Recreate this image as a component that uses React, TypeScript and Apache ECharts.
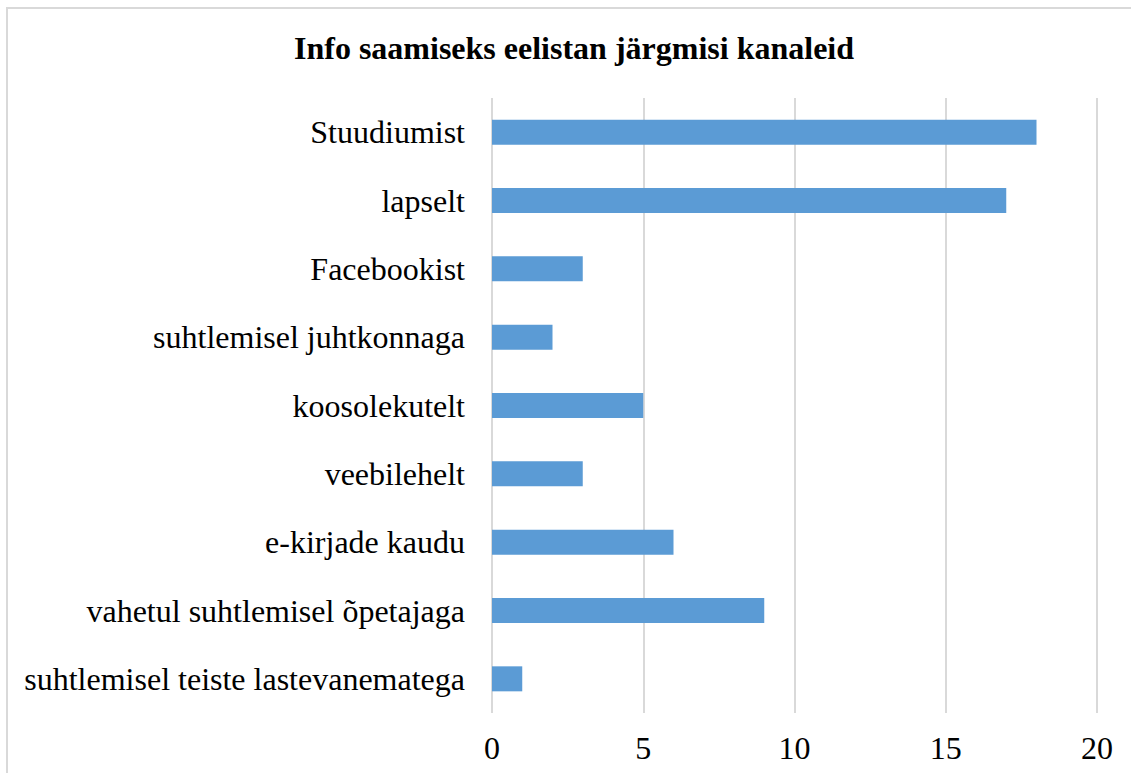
import React, { useEffect, useRef } from "react";
import * as echarts from "echarts";

const titleText = "Info saamiseks eelistan järgmisi kanaleid";
// listed bottom to top (ECharts category order)
const categories = [
  "suhtlemisel teiste lastevanematega",
  "vahetul suhtlemisel õpetajaga",
  "e-kirjade kaudu",
  "veebilehelt",
  "koosolekutelt",
  "suhtlemisel juhtkonnaga",
  "Facebookist",
  "lapselt",
  "Stuudiumist",
];
const values = [1, 9, 6, 3, 5, 2, 3, 17, 18];
const xMin = 0;
const xMax = 20;
const xStep = 5;

const FONT = "'Liberation Serif', 'Times New Roman', serif";

export default function App() {
  const ref = useRef<HTMLDivElement>(null);
  useEffect(() => {
    if (!ref.current) return;
    const chart = echarts.init(ref.current, undefined, { renderer: "svg" });
    chart.setOption({
      animation: false,
      backgroundColor: "#ffffff",
      title: {
        text: titleText,
        left: 569,
        top: 27,
        textAlign: "center",
        textStyle: { fontFamily: FONT, fontSize: 32, fontWeight: "bold", color: "#000" },
      },
      graphic: [
        {
          type: "rect",
          shape: { x: 7, y: 8, width: 1300, height: 900 },
          style: { fill: "none", stroke: "#d9d9d9", lineWidth: 2 },
          silent: true,
        },
      ],
      grid: { left: 492, right: 34, top: 98, bottom: 60, containLabel: false },
      xAxis: {
        type: "value",
        min: xMin,
        max: xMax,
        interval: xStep,
        axisLine: { show: false },
        axisTick: { show: false },
        splitLine: { show: true, lineStyle: { color: "#d9d9d9", width: 2 } },
        axisLabel: { fontFamily: FONT, fontSize: 32, color: "#000", margin: 19 },
      },
      yAxis: {
        type: "category",
        data: categories,
        axisLine: { show: false },
        axisTick: { show: false },
        axisLabel: { fontFamily: FONT, fontSize: 32, color: "#000", margin: 27 },
      },
      series: [
        {
          type: "bar",
          data: values,
          barWidth: 25,
          itemStyle: { color: "#5b9bd5" },
        },
      ],
    });
    return () => chart.dispose();
  }, []);
  return (
    <div
      ref={ref}
      style={{ position: "fixed", left: 0, top: 0, width: 1131, height: 773, background: "#fff" }}
    />
  );
}
